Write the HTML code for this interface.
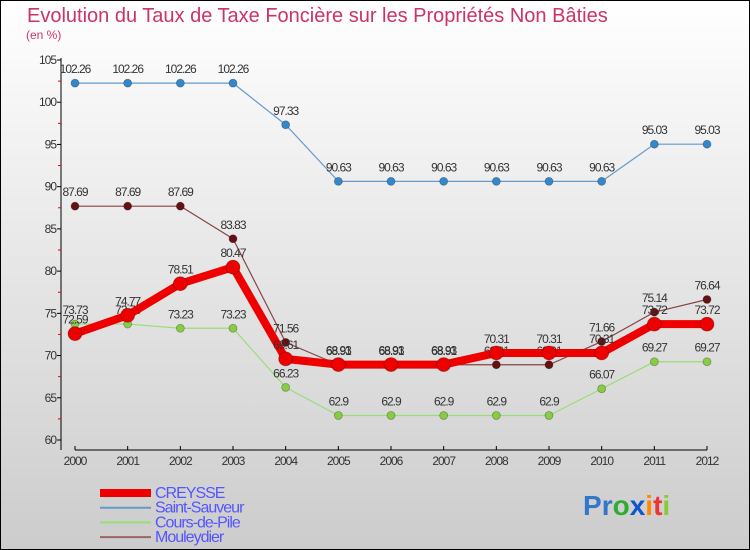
<!DOCTYPE html>
<html><head><meta charset="utf-8"><style>
body{margin:0;}
svg{display:block;font-family:"Liberation Sans",sans-serif;}
</style></head><body>
<svg id="chart" width="750" height="550" viewBox="0 0 750 550">
<defs><linearGradient id="bg" x1="0" y1="0" x2="0" y2="1"><stop offset="0" stop-color="#ffffff"/><stop offset="1" stop-color="#cccccc"/></linearGradient></defs>
<rect x="0.5" y="0.5" width="749" height="549" fill="url(#bg)" stroke="#000"/>
<text x="27" y="22" font-size="20" fill="#cc3366">Evolution du Taux de Taxe Foncière sur les Propriétés Non Bâties</text>
<text x="26" y="39" font-size="12" fill="#cc3366">(en %)</text>
<g id="axes"></g>
<g id="series"></g>
<g id="legend" font-size="16" fill="#5555ff"></g>
<g font-size="28" font-weight="bold">
<text x="583" y="515"><tspan fill="#3377cc">P</tspan><tspan fill="#3377cc">r</tspan><tspan fill="#33aa33">o</tspan><tspan fill="#1155cc">x</tspan><tspan fill="#ff8800">i</tspan><tspan fill="#ee3333">t</tspan><tspan fill="#88cc33">i</tspan></text>
</g>
</svg>
<script>
const years=["2000","2001","2002","2003","2004","2005","2006","2007","2008","2009","2010","2011","2012"];
const creysse=[72.59,74.77,78.51,80.47,69.61,68.93,68.93,68.93,70.31,70.31,70.31,73.72,73.72];
const saintSauveur=[102.26,102.26,102.26,102.26,97.33,90.63,90.63,90.63,90.63,90.63,90.63,95.03,95.03];
const coursDePile=[73.73,73.73,73.23,73.23,66.23,62.9,62.9,62.9,62.9,62.9,66.07,69.27,69.27];
const mouleydier=[87.69,87.69,87.69,83.83,71.56,68.91,68.91,68.91,68.91,68.91,71.66,75.14,76.64];
const yTicks=[60,65,70,75,80,85,90,95,100,105];
const NS="http://www.w3.org/2000/svg";
const X=i=>75+i*(707-75)/(years.length-1);
const Y=v=>440-(v-60)*(380/45);
function mk(tag,attrs,parent){const e=document.createElementNS(NS,tag);for(const k in attrs)e.setAttribute(k,attrs[k]);parent.appendChild(e);return e;}
const axes=document.getElementById('axes');
let yl=mk('line',{x1:61,y1:58,x2:61,y2:450,stroke:'#000'},axes);


let xl=mk('line',{x1:75,y1:450,x2:707,y2:450,stroke:'#000'},axes);


yTicks.forEach(v=>{
  mk('line',{x1:57,y1:Y(v),x2:61,y2:Y(v),stroke:'#000'},axes);
  if(v<105)mk('line',{x1:58,y1:Y(v+2.5),x2:61,y2:Y(v+2.5),stroke:'#e00'},axes);
  const t=mk('text',{x:56,y:Y(v)+4,'font-size':12,'text-anchor':'end',fill:'#333','letter-spacing':'-1'},axes);
  t.textContent=v;
  
  
});
years.forEach((y,i)=>{
  mk('line',{x1:X(i),y1:446,x2:X(i),y2:450,stroke:'#000'},axes);
  const t=mk('text',{x:X(i),y:465,'font-size':12,'text-anchor':'middle',fill:'#333','letter-spacing':'-1'},axes);
  t.textContent=y;
  
  
});
const series=[
 {name:'saint-sauveur',data:saintSauveur,color:'#6699cc',w:1.2,r:4,dot:'#3388cc'},
 {name:'cours-de-pile',data:coursDePile,color:'#99dd77',w:1.2,r:4,dot:'#88cc44'},
 {name:'mouleydier',data:mouleydier,color:'#884444',w:1.2,r:4,dot:'#661111'},
 {name:'creysse',data:creysse,color:'#ee0000',w:8,r:7,dot:'#ee0000'}
];
const sg=document.getElementById('series');
series.forEach(s=>{
  const g=mk('g',{},sg);
  
  
  const p=mk('polyline',{points:s.data.map((v,i)=>X(i)+','+Y(v)).join(' '),fill:'none',stroke:s.color,'stroke-width':s.w,'stroke-linejoin':'round'},g);
  
  
  s.data.forEach((v,i)=>{
    const c=mk('circle',{cx:X(i),cy:Y(v),r:s.r,fill:s.dot,stroke:'rgba(0,0,0,0.3)','stroke-width':0.8},g);
    
    
    const t=mk('text',{x:X(i),y:Y(v)-10,'font-size':12,'text-anchor':'middle',fill:'#333','letter-spacing':'-1'},g);
    t.textContent=String(v);
    
    
  });
});
const lg=document.getElementById('legend');
const legendItems=[['CREYSSE','#ee0000',8],['Saint-Sauveur','#6699cc',2],['Cours-de-Pile','#99dd77',2],['Mouleydier','#996666',2]];
legendItems.forEach((it,i)=>{
  const y=493+i*14.7;
  const g=mk('g',{},lg);
  
  
  mk('line',{x1:100,y1:y,x2:151,y2:y,stroke:it[1],'stroke-width':it[2]},g);
  const t=mk('text',{x:155,y:y+5,'letter-spacing':'-1'},g);
  t.textContent=it[0];
});
</script>
</body></html>
